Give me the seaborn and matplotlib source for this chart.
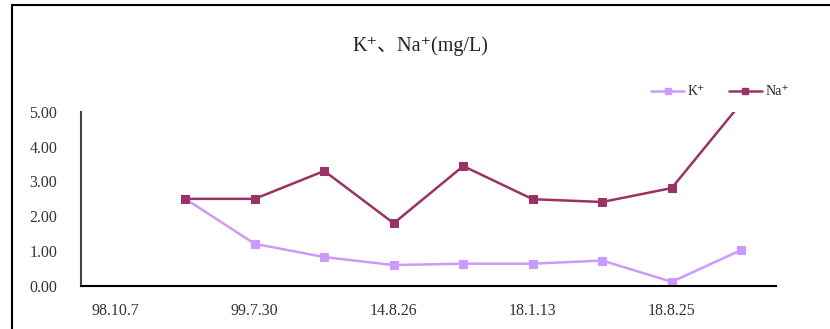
import numpy as np
import pandas as pd
import seaborn as sns
import matplotlib
matplotlib.use("Agg")
import matplotlib.pyplot as plt
from matplotlib.lines import Line2D

# Sampling dates (only every other one is labelled on the axis)
categories = ["98.10.7", "", "99.7.30", "", "14.8.26", "", "18.1.13", "", "18.8.25", ""]
k_values = [np.nan, 2.50, 1.21, 0.83, 0.60, 0.64, 0.64, 0.73, 0.12, 1.03]
na_values = [np.nan, 2.50, 2.50, 3.30, 1.80, 3.44, 2.49, 2.41, 2.81, 5.25]
y_ticks = [0, 1, 2, 3, 4, 5]

sns.set_style("white")
plt.rcParams["font.family"] = ["Liberation Serif", "Noto Sans CJK SC", "DejaVu Sans"]

fig = plt.figure(figsize=(8.30, 3.29), dpi=100)
ax = fig.add_axes([81 / 830, 1 - 286 / 329, (776 - 81) / 830, (286 - 111.7) / 329])

df = pd.DataFrame({
    "pos": np.arange(len(categories)),
    "K": k_values,
    "Na": na_values,
})

k_color = "#CC99FF"
na_color = "#993366"
sns.lineplot(data=df, x="pos", y="K", ax=ax, color=k_color, marker="s",
             markersize=6, markeredgecolor=k_color, linewidth=1.8, legend=False)
sns.lineplot(data=df, x="pos", y="Na", ax=ax, color=na_color, marker="s",
             markersize=6, markeredgecolor=na_color, linewidth=1.8, legend=False)

ax.set_xlim(-0.5, len(categories) - 0.5)
ax.set_ylim(0, 5)
ax.set_xlabel("")
ax.set_ylabel("")

# category boundaries carry the tick marks, centres carry the labels
ax.set_xticks(np.arange(len(categories) + 1) - 0.5)
ax.set_xticklabels([])
ax.set_xticks(np.arange(len(categories)), minor=True)
ax.set_xticklabels(categories, minor=True, fontsize=11.5, color="#333333")
ax.tick_params(axis="x", which="major", direction="in", length=4, width=1, color="black")
ax.tick_params(axis="x", which="minor", length=0, pad=12)

ax.set_yticks(y_ticks)
ax.set_yticklabels([f"{v:.2f}" for v in y_ticks], fontsize=11.5, color="#333333")
ax.tick_params(axis="y", direction="in", length=4, width=1.5, color="#444444", pad=17)

for s in ["top", "right"]:
    ax.spines[s].set_visible(False)
ax.spines["left"].set_color("#444444")
ax.spines["left"].set_linewidth(1.5)
ax.spines["bottom"].set_color("black")
ax.spines["bottom"].set_linewidth(1.5)

fig.text(0.506, 1 - 46 / 329, "K\u207a\u3001Na\u207a(mg/L)", ha="center", va="center",
         fontsize=14.5, color="#222222")

handles = [
    Line2D([], [], color=k_color, marker="s", markersize=5, linewidth=1.8, markeredgecolor=k_color),
    Line2D([], [], color=na_color, marker="s", markersize=5, linewidth=1.8, markeredgecolor=na_color),
]
fig.legend(handles, ["K\u207a", "Na\u207a"], loc="center left",
           bbox_to_anchor=(651 / 830, 1 - 92 / 329), ncol=2, frameon=False,
           fontsize=10, handlelength=2.4, handletextpad=0.25, columnspacing=1.7,
           borderaxespad=0, borderpad=0)

# outer chart frame
fig.add_artist(Line2D([12 / 830, 1], [1 - 4.5 / 329, 1 - 4.5 / 329], color="black", linewidth=1.5))
fig.add_artist(Line2D([12 / 830, 12 / 830], [0, 1 - 4.5 / 329], color="black", linewidth=1.5))

fig.savefig("out.png", dpi=100)
